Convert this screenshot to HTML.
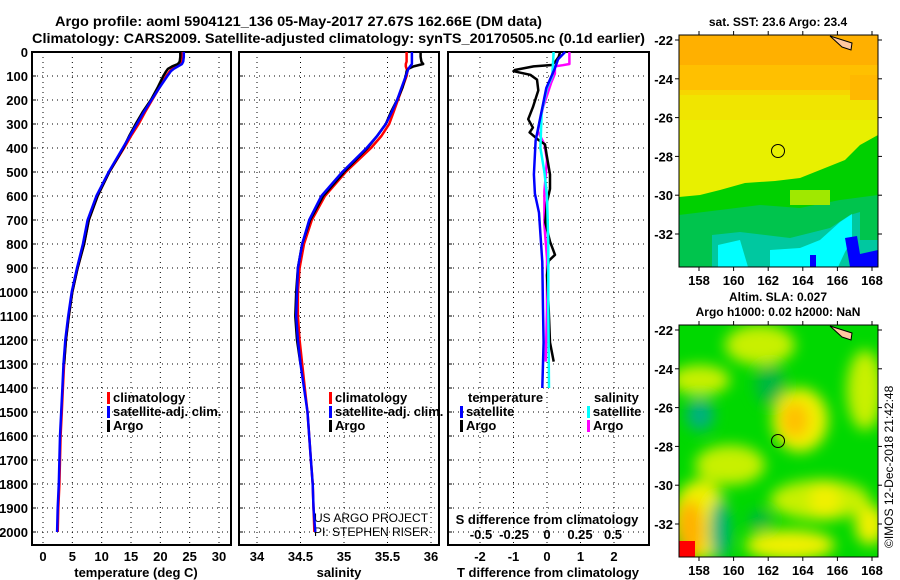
<!DOCTYPE html>
<html><head><meta charset="utf-8">
<style>
html,body{margin:0;padding:0;background:#fff;}
svg{display:block;font-family:"Liberation Sans",sans-serif;}
.b{font-weight:bold;}
</style></head>
<body>
<svg id="c" width="900" height="580" viewBox="0 0 900 580">
<defs>
<filter id="bl" x="-50%" y="-50%" width="200%" height="200%"><feGaussianBlur stdDeviation="7"/></filter>
<filter id="bl2" x="-50%" y="-50%" width="200%" height="200%"><feGaussianBlur stdDeviation="3"/></filter>
<clipPath id="m1"><rect x="679" y="35" width="199" height="232"/></clipPath>
<clipPath id="m2"><rect x="679" y="325" width="199" height="232"/></clipPath>
</defs>
<text class="b" x="55" y="26" font-size="14" textLength="487" lengthAdjust="spacingAndGlyphs">Argo profile: aoml 5904121_136 05-May-2017 27.67S 162.66E (DM data)</text>
<text class="b" x="32" y="43" font-size="14" textLength="613" lengthAdjust="spacingAndGlyphs">Climatology: CARS2009. Satellite-adjusted climatology: synTS_20170505.nc (0.1d earlier)</text>

<!-- Top map: SST -->
<g>
<text class="b" x="778" y="26" font-size="12" text-anchor="middle">sat. SST: 23.6 Argo: 23.4</text>
<g clip-path="url(#m1)">
<rect x="679" y="35" width="199" height="232" fill="#00c870"/>
<rect x="679" y="35" width="199" height="170" fill="#e8f000"/>
<rect x="679" y="35" width="199" height="60" fill="#ffc000"/>
<rect x="679" y="35" width="199" height="30" fill="#ffb000"/>
<rect x="679" y="90" width="199" height="30" fill="#f4e000" opacity="0.7"/>
<rect x="850" y="75" width="28" height="25" fill="#ffb800"/>
<polygon points="679,197 700,195 720,190 745,183 775,181 800,178 820,170 845,160 860,145 878,135 878,267 679,267" fill="#00d000"/>
<polygon points="679,215 720,210 760,205 800,208 840,200 878,195 878,267 679,267" fill="#00c060" opacity="0.8"/>
<rect x="790" y="190" width="40" height="15" fill="#a0e800"/>
<polygon points="712,235 740,232 790,238 830,228 850,215 860,212 860,240 878,240 878,267 712,267" fill="#00c8a0"/>
<polygon points="718,245 740,240 748,267 718,267" fill="#00ffff"/>
<polygon points="770,250 800,248 820,240 840,222 852,214 852,240 845,252 838,267 770,267" fill="#00ffff"/>
<polygon points="845,238 857,236 860,254 878,250 878,267 850,267" fill="#0000ff"/>
<rect x="810" y="255" width="6" height="12" fill="#0000ff"/>
<polygon points="830,36 852,43 851,50 842,47" fill="#ffc8a0" stroke="#000" stroke-width="1"/>
</g>
<rect x="679" y="35" width="199" height="232" fill="none" stroke="#000" stroke-width="1"/>
<circle cx="778" cy="151" r="6.5" fill="none" stroke="#000" stroke-width="1"/>
</g>

<!-- Bottom map: SLA -->
<g>
<text class="b" x="778" y="301" font-size="12" text-anchor="middle">Altim. SLA: 0.027</text>
<text class="b" x="778" y="316" font-size="12" text-anchor="middle">Argo h1000: 0.02 h2000: NaN</text>
<g clip-path="url(#m2)">
<rect x="679" y="325" width="199" height="232" fill="#00d800"/>
<g filter="url(#bl)">
<ellipse cx="760" cy="345" rx="35" ry="20" fill="#c8f000"/>
<ellipse cx="700" cy="380" rx="30" ry="15" fill="#c8f000"/>
<ellipse cx="800" cy="420" rx="28" ry="32" fill="#f0f000"/>
<ellipse cx="795" cy="420" rx="14" ry="18" fill="#ffc000"/>
<ellipse cx="730" cy="465" rx="35" ry="20" fill="#c8f000"/>
<ellipse cx="700" cy="520" rx="28" ry="40" fill="#f0f000"/>
<ellipse cx="690" cy="530" rx="14" ry="30" fill="#ffb000"/>
<ellipse cx="820" cy="500" rx="50" ry="20" fill="#c8f000"/>
<ellipse cx="825" cy="500" rx="15" ry="20" fill="#f0f000"/>
<ellipse cx="790" cy="545" rx="45" ry="15" fill="#f0f000"/>
<ellipse cx="870" cy="525" rx="15" ry="20" fill="#f0f000"/>
<ellipse cx="865" cy="390" rx="18" ry="40" fill="#c8f000"/>
<ellipse cx="700" cy="415" rx="14" ry="16" fill="#00b080"/>
<ellipse cx="720" cy="530" rx="10" ry="30" fill="#00b080"/>
<ellipse cx="770" cy="385" rx="15" ry="20" fill="#00b840"/>
<ellipse cx="760" cy="520" rx="12" ry="10" fill="#00b840"/>
</g>
<rect x="679" y="541" width="16" height="16" fill="#ff0000"/>
<polygon points="830,326 852,333 851,340 842,337" fill="#ffc8a0" stroke="#000" stroke-width="1"/>
</g>
<rect x="679" y="325" width="199" height="232" fill="none" stroke="#000" stroke-width="1"/>
<circle cx="778" cy="441" r="6.5" fill="none" stroke="#000" stroke-width="1"/>
</g>
<text x="893" y="548" font-size="12" transform="rotate(-90 893 548)">©IMOS 12-Dec-2018 21:42:48</text>
<text x="314" y="522" font-size="12">US ARGO PROJECT</text>
<text x="314" y="536" font-size="12">PI: STEPHEN RISER</text>
</svg>
<script>
// ---- data ----
const depthP = [0,20,40,50,60,70,80,100,150,200,250,300,350,400,500,600,700,800,900,1000,1100,1200,1300,1400,1500,1600,1700,1800,1900,2000];
const climT = [23.6,23.6,23.5,23.3,22.6,22.0,21.6,21.0,19.8,18.6,17.4,16.3,15.0,13.8,11.3,9.3,7.8,7.0,5.9,5.0,4.4,3.9,3.6,3.4,3.2,3.0,2.9,2.8,2.6,2.5];
const satT = [24.0,24.0,23.9,23.7,23.0,22.3,21.8,21.2,19.8,18.5,17.2,16.0,14.8,13.6,11.2,9.1,7.6,6.8,5.8,4.9,4.3,3.8,3.5,3.3,3.1,2.9,2.8,2.7,2.5,2.4];
const depthArgo = [0,20,40,50,60,70,80,100,150,200,250,300,350,400,500,600,700,800,900,1000,1100,1200,1300];
const argoT = [23.4,23.4,23.3,23.0,22.0,21.3,21.0,20.5,19.5,18.4,17.0,15.8,14.7,13.7,11.3,9.3,7.8,7.0,5.9,5.0,4.4,3.9,3.6];
const climS = [35.72,35.72,35.72,35.71,35.71,35.72,35.73,35.72,35.67,35.62,35.57,35.52,35.43,35.31,35.02,34.78,34.63,34.54,34.49,34.47,34.47,34.49,34.52,34.55,34.58,34.60,34.62,34.64,34.65,34.66];
const satS = [35.78,35.78,35.78,35.78,35.76,35.74,35.73,35.71,35.66,35.61,35.55,35.48,35.38,35.26,34.98,34.74,34.60,34.52,34.47,34.46,34.45,34.47,34.50,34.54,34.58,34.60,34.62,34.64,34.65,34.67];
const argoS = [35.88,35.88,35.89,35.91,35.80,35.74,35.72,35.71,35.67,35.61,35.54,35.48,35.38,35.27,35.00,34.76,34.61,34.52,34.47,34.45,34.44,34.46,34.50];
const argoTdDepth = [0,20,40,54,60,75,80,95,115,160,230,280,315,335,365,385,430,510,570,625,710,790,845,870,930,1070,1210,1290];
const argoTd = [0.39,0.35,0.25,0.15,-0.4,-0.96,-1.0,-0.5,-0.3,-0.26,-0.42,-0.56,-0.42,-0.52,-0.27,-0.06,-0.01,0.09,0.09,0,-0.05,0.09,0.24,0.05,0,0.05,0.09,0.2];
const argoSdDepth = [0,50,55,60,90,130,230,330,385,450,580,720,860,1070,1290];
const argoSd = [0.17,0.17,0.12,0.06,0.06,0.03,-0.03,-0.07,-0.02,0,-0.02,-0.02,0,0,-0.01];
const satTdDepth = [0,30,70,150,300,370,510,590,670,875,1070,1210,1400];
const satTd = [0.54,0.33,0.23,-0.02,-0.24,-0.34,-0.39,-0.36,-0.24,-0.14,-0.12,-0.1,-0.14];
const satSdDepth = [0,100,150,250,400,500,600,800,1070,1400];
const satSd = [0.05,0.04,0,-0.04,-0.05,-0.02,0,0.01,0.01,0.015];
const depthTicks = [0,100,200,300,400,500,600,700,800,900,1000,1100,1200,1300,1400,1500,1600,1700,1800,1900,2000];
const tTicks = [0,5,10,15,20,25,30];
const sTicks = [34,34.5,35,35.5,36];
const tdTicks = [-2,-1,0,1,2];
const sdTicks = [-0.5,-0.25,0,0.25,0.5];
const sdTickLabels = ['-0.5','-0.25','0','0.25','0.5'];
const latTicks = [-22,-24,-26,-28,-30,-32];
const lonTicks = [158,160,162,164,166,168];

const NS='http://www.w3.org/2000/svg';
const svg=document.getElementById('c');
function el(t,a,p){const e=document.createElementNS(NS,t);for(const k in a)e.setAttribute(k,a[k]);(p||svg).appendChild(e);return e;}
const yD = d => 52 + d*0.24;   // depth axis
const PT=0,PB=545;
function lin(d0,d1,r0,r1){return v=>r0+(v-d0)/(d1-d0)*(r1-r0);}
const xT = lin(0,30,43,219);
const xS = lin(34,36,257,431);
const xTd = lin(0,2,547,614);
const xSd = lin(0,0.5,547,613);

function panel(name,x0,x1,xticks,xs,showY){
  const g=el('g',{});
  
  
  xticks.forEach(v=>{
    const l=el('line',{x1:xs(v),x2:xs(v),y1:52,y2:PB,stroke:'#000','stroke-width':1,'stroke-dasharray':'1,4'},g);
    
    
  });
  depthTicks.forEach(d=>{
    const l=el('line',{x1:x0,x2:x1,y1:yD(d),y2:yD(d),stroke:'#000','stroke-width':1,'stroke-dasharray':'1,4'},g);
    
    
    el('line',{x1:x0,x2:x0+4,y1:yD(d),y2:yD(d),stroke:'#000','stroke-width':1},g);
    if(showY){
      const t=el('text',{x:x0-4,y:yD(d)+5,'font-size':13,'font-weight':'bold','text-anchor':'end'},g);
      t.textContent=d;
      
      
    }
  });
  const r=el('rect',{x:x0,y:52,width:x1-x0,height:PB-52,fill:'none',stroke:'#000','stroke-width':2},g);
  
  
  return g;
}
function line(g,name,xs,vals,depths,color,w){
  let d='';
  vals.forEach((v,i)=>{d+=(i?'L':'M')+xs(v).toFixed(1)+','+yD(depths[i]).toFixed(1);});
  const p=el('path',{d:d,fill:'none',stroke:color,'stroke-width':w||2.5,'stroke-linejoin':'round'},g);
  
  
}
function xlabels(g,ticks,xs,y,labels){
  ticks.forEach((v,i)=>{
    const t=el('text',{x:xs(v),y:y,'font-size':13,'font-weight':'bold','text-anchor':'middle'},g);
    t.textContent=labels?labels[i]:v;
    
    
  });
}
function txt(g,x,y,s,name,anchor){
  const t=el('text',{x:x,y:y,'font-size':13,'font-weight':'bold','text-anchor':anchor||'start'},g);
  t.textContent=s;
  
  
}
function legend(g,x,y,color,s){
  const r=el('rect',{x:x,y:y-10,width:3,height:12,fill:color},g);
  
  
  txt(g,x+6,y,s,'legend-entry');
}

// Temperature panel
const g1=panel('temperature-panel',32,231,tTicks,xT,true);
line(g1,'temp-climatology',xT,climT,depthP,'#ff0000');
line(g1,'temp-argo',xT,argoT,depthArgo,'#000000');
line(g1,'temp-satellite-adj',xT,satT,depthP,'#0000ff');
xlabels(g1,tTicks,xT,561);
txt(g1,136,577,'temperature (deg C)','x-axis-title','middle');
legend(g1,107,402,'#ff0000','climatology');
legend(g1,107,416,'#0000ff','satellite-adj. clim.');
legend(g1,107,430,'#000000','Argo');

// Salinity panel
const g2=panel('salinity-panel',239,439,sTicks,xS,false);
line(g2,'sal-climatology',xS,climS,depthP,'#ff0000');
line(g2,'sal-argo',xS,argoS,depthArgo,'#000000');
line(g2,'sal-satellite-adj',xS,satS,depthP,'#0000ff');
xlabels(g2,sTicks,xS,561);
txt(g2,339,577,'salinity','x-axis-title','middle');
legend(g2,329,402,'#ff0000','climatology');
legend(g2,329,416,'#0000ff','satellite-adj. clim.');
legend(g2,329,430,'#000000','Argo');

// Difference panel
const g3=panel('difference-panel',448,649,tdTicks,xTd,false);
line(g3,'s-diff-argo',xSd,argoSd,argoSdDepth,'#ff00ff');
line(g3,'t-diff-argo',xTd,argoTd,argoTdDepth,'#000000');
line(g3,'s-diff-satellite',xSd,satSd,satSdDepth,'#00ffff');
line(g3,'t-diff-satellite',xTd,satTd,satTdDepth,'#0000ff');
xlabels(g3,tdTicks,xTd,561);
txt(g3,548,577,'T difference from climatology','x-axis-title','middle');
txt(g3,547,524,'S difference from climatology','s-axis-title','middle');
xlabels(g3,sdTicks,xSd,539,sdTickLabels);
txt(g3,468,402,'temperature','legend-title');
txt(g3,594,402,'salinity','legend-title');
legend(g3,460,416,'#0000ff','satellite');
legend(g3,460,430,'#000000','Argo');
legend(g3,587,416,'#00ffff','satellite');
legend(g3,587,430,'#ff00ff','Argo');

// map axes
const yLat1 = lin(-22,-32,40,234);
const xLon = lin(158,168,699,872);
[[0,'sst'],[290,'sla']].forEach(([off,nm])=>{
  latTicks.forEach(v=>{
    const y=yLat1(v)+off;
    el('line',{x1:675,x2:679,y1:y,y2:y,stroke:'#000'});
    el('line',{x1:878,x2:882,y1:y,y2:y,stroke:'#000'});
    const t=el('text',{x:673,y:y+5,'font-size':13,'font-weight':'bold','text-anchor':'end'});
    t.textContent=v;
    
    
  });
  lonTicks.forEach(v=>{
    const x=xLon(v);
    el('line',{x1:x,x2:x,y1:31+off,y2:35+off,stroke:'#000'});
    el('line',{x1:x,x2:x,y1:267+off,y2:271+off,stroke:'#000'});
    const t=el('text',{x:x,y:285+off,'font-size':13,'font-weight':'bold','text-anchor':'middle'});
    t.textContent=v;
    
    
  });
});
</script>
</body></html>
